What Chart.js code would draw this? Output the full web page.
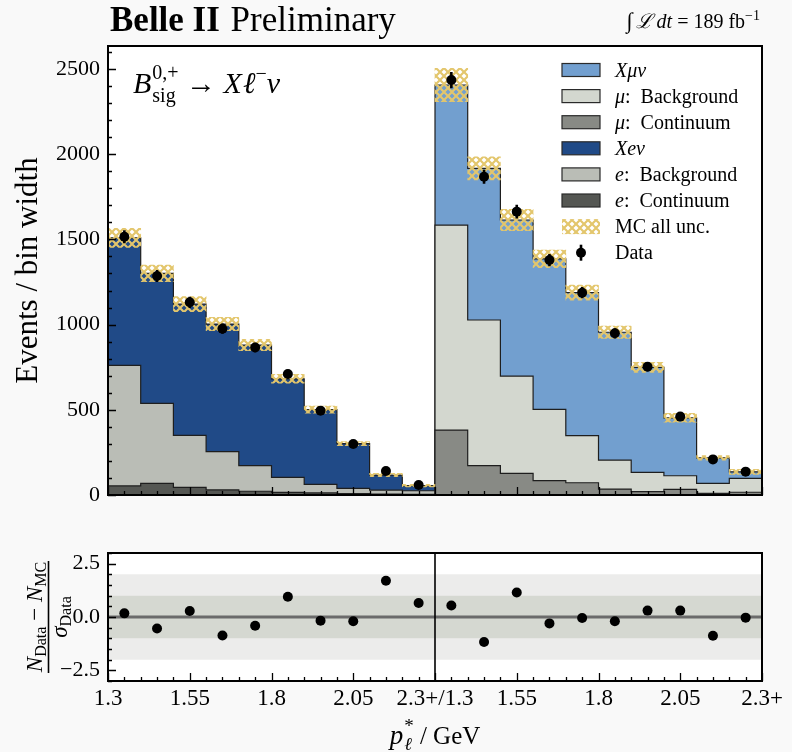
<!DOCTYPE html>
<html><head><meta charset="utf-8">
<script src="https://cdn.jsdelivr.net/npm/chart.js@4.4.1/dist/chart.umd.min.js"></script>
<style>
html,body{margin:0;padding:0;background:#f9f9f9;overflow:hidden}
#wrap{position:relative;width:792px;height:752px;background:#f9f9f9}
canvas{position:absolute;left:0}
#cTop{top:0}
#cBot{top:540px}
</style></head><body>
<div id="wrap">
<canvas id="cTop" width="792" height="540"></canvas>
<canvas id="cBot" width="792" height="212"></canvas>
</div>
<script>
// ---------------- data ----------------
// x axis in bin units: 0..10 electron channel, 10..20 muon channel (0.1 GeV bins, 1.3 -> 2.3+)
const xTickPositions = [0, 2.5, 5, 7.5, 10, 12.5, 15, 17.5, 20];
const xTickLabels = ['1.3', '1.55', '1.8', '2.05', '2.3+/1.3', '1.55', '1.8', '2.05', '2.3+'];
const yTickValues = [0, 500, 1000, 1500, 2000, 2500];
const pullTickValues = [-2.5, 0, 2.5];
const pullBands = [2, 1];

// electron channel (events / bin width)
const eContinuum = [53, 68, 45, 30, 22, 15, 12, 8, 5, 4];
const eBackground = [708, 470, 305, 224, 150, 89, 50, 31, 24, 21];
const eSignal = [748, 763, 770, 749, 708, 578, 439, 262, 88, 30];
// muon channel
const muContinuum = [381, 172, 127, 84, 72, 35, 20, 33, 10, 16];
const muBackground = [1203, 855, 571, 419, 276, 170, 113, 80, 58, 82];
const muSignal = [822, 890, 916, 883, 840, 750, 616, 340, 150, 38];
// MC total uncertainty (half width), electron bins then muon bins
const mcUncertainty = [56, 49, 44, 39, 33, 26, 21, 12, 10, 8, 98, 68, 63, 52, 44, 36, 29, 26, 13, 15];
// data
const dataValues = [1516, 1285, 1131, 976, 866, 710, 495, 299, 141, 59, 2435, 1868, 1663, 1379, 1187, 949, 753, 460, 209, 137];
const dataErrors = [38, 35, 33, 30, 28, 25, 21, 17, 12, 8, 48, 41, 40, 36, 33, 30, 27, 21, 15, 12];
// pulls (N_Data - N_MC) / sigma_Data
const pullValues = [0.17, -0.54, 0.28, -0.87, -0.41, 0.95, -0.17, -0.2, 1.70, 0.66, 0.54, -1.17, 1.15, -0.30, -0.05, -0.2, 0.3, 0.3, -0.88, -0.03];

// ---------------- style ----------------
const SERIF = "'Liberation Serif','DejaVu Serif','Times New Roman',serif";
const COL = { muSig: '#729fcf', muBkg: '#d3d7cf', muCont: '#888a85', eSig: '#204a87', eBkg: '#babdb6', eCont: '#555753' };
const HATCH = '#e3c66c';
Chart.defaults.font.family = SERIF;
Chart.defaults.color = '#000';

function fnt(s, i, b) { return (i ? 'italic ' : '') + (b ? 'bold ' : '') + s + 'px ' + SERIF; }
function richWidth(ctx, parts) {
  let w = 0;
  for (const p of parts) {
    if (p.pair) { let m = 0; for (const q of p.pair) { ctx.font = fnt(q.s, q.i, q.b); m = Math.max(m, ctx.measureText(q.t).width); } w += m; }
    else { ctx.font = fnt(p.s, p.i, p.b); w += ctx.measureText(p.t).width + (p.dx || 0); }
  }
  return w;
}
function drawRich(ctx, parts, x, y, align) {
  const w = richWidth(ctx, parts);
  if (align === 'center') x -= w / 2; else if (align === 'right') x -= w;
  ctx.textAlign = 'left'; ctx.textBaseline = 'alphabetic';
  for (const p of parts) {
    if (p.pair) {
      let m = 0;
      for (const q of p.pair) { ctx.font = fnt(q.s, q.i, q.b); ctx.fillText(q.t, x, y + (q.dy || 0)); m = Math.max(m, ctx.measureText(q.t).width); }
      x += m;
    } else {
      ctx.font = fnt(p.s, p.i, p.b); ctx.fillText(p.t, x, y + (p.dy || 0));
      x += ctx.measureText(p.t).width + (p.dx || 0);
    }
  }
}

function hatchPattern(color) {
  const c = document.createElement('canvas'); c.width = 8; c.height = 8;
  const g = c.getContext('2d');
  g.strokeStyle = color; g.lineWidth = 2.2;
  g.beginPath();
  g.moveTo(-1, -1); g.lineTo(9, 9);
  g.moveTo(9, -1); g.lineTo(-1, 9);
  g.stroke();
  return c.getContext('2d').createPattern(c, 'repeat');
}
const hatch = hatchPattern(HATCH);

// step outline (with vertical edges to zero) from cumulative bin contents
function stepPoints(vals, start) {
  const pts = [{ x: start, y: 0 }];
  vals.forEach((v, i) => pts.push({ x: start + i, y: v }));
  pts.push({ x: start + vals.length, y: vals[vals.length - 1] });
  pts.push({ x: start + vals.length, y: 0 });
  return pts;
}
const add = (a, b) => a.map((v, i) => v + b[i]);
const eL1 = eContinuum, eL2 = add(eL1, eBackground), eL3 = add(eL2, eSignal);
const mL1 = muContinuum, mL2 = add(mL1, muBackground), mL3 = add(mL2, muSignal);
const mcTotal = eL3.concat(mL3);

const stepStyle = { type: 'line', stepped: true, pointRadius: 0, borderColor: '#1e1e1e', borderWidth: 1.2, tension: 0, fill: 'origin' };

function noPad(s) { s.paddingTop = 0; s.paddingBottom = 0; s.paddingLeft = 0; s.paddingRight = 0; }

// ---------------- plugins ----------------
const plotBg = {
  id: 'plotBg',
  beforeDraw(chart) {
    const { ctx, chartArea: a } = chart;
    ctx.save(); ctx.fillStyle = '#ffffff'; ctx.fillRect(a.left, a.top, a.right - a.left, a.bottom - a.top); ctx.restore();
  }
};
const frameTicks = {
  id: 'frameTicks',
  afterDraw(chart, args, o) {
    const { ctx, chartArea: a, scales: { x, y } } = chart;
    ctx.save();
    ctx.strokeStyle = '#000'; ctx.lineWidth = 1.3;
    ctx.beginPath();
    for (let v = x.min; v <= x.max + 1e-9; v += o.xMinor) {
      const px = Math.round(x.getPixelForValue(v)) + 0.5;
      const major = xTickPositions.some(t => Math.abs(t - v) < 1e-6);
      ctx.moveTo(px, a.bottom); ctx.lineTo(px, a.bottom - (major ? 8 : 4));
    }
    for (let v = o.yMinorStart; v <= y.max + 1e-9; v += o.yMinor) {
      const py = Math.round(y.getPixelForValue(v)) + 0.5;
      const major = o.yMajor.some(t => Math.abs(t - v) < 1e-6);
      ctx.moveTo(a.left, py); ctx.lineTo(a.left + (major ? 8 : 4), py);
    }
    ctx.stroke();
    ctx.lineWidth = 2;
    ctx.strokeRect(a.left, a.top, a.right - a.left, a.bottom - a.top);
    ctx.restore();
  }
};
const errorBars = {
  id: 'errorBars',
  afterDatasetsDraw(chart) {
    const { ctx } = chart; const ys = chart.scales.y;
    chart.data.datasets.forEach((ds, i) => {
      if (!ds.errorBars) return;
      const meta = chart.getDatasetMeta(i);
      ctx.save(); ctx.strokeStyle = '#000'; ctx.lineWidth = 2.6;
      ctx.beginPath();
      ds.data.forEach((p, j) => {
        const px = meta.data[j].x;
        ctx.moveTo(px, ys.getPixelForValue(p.y - ds.errorBars[j]));
        ctx.lineTo(px, ys.getPixelForValue(p.y + ds.errorBars[j]));
      });
      ctx.stroke(); ctx.restore();
    });
  }
};
const legendBox = {
  id: 'legendBox',
  afterDraw(chart) {
    const { ctx, chartArea: a } = chart;
    const items = chart.data.datasets.filter(d => d.legendRank).sort((p, q) => p.legendRank - q.legendRank);
    const x0 = a.right - 200, y0 = a.top + 24, rowH = 26.1, bw = 38, bh = 13;
    ctx.save();
    items.forEach((d, k) => {
      const cy = y0 + k * rowH;
      if (d.legendKind === 'box') {
        ctx.fillStyle = d.backgroundColor; ctx.fillRect(x0, cy - bh / 2, bw, bh);
        ctx.strokeStyle = '#2a2a2a'; ctx.lineWidth = 1.2; ctx.strokeRect(x0, cy - bh / 2, bw, bh);
      } else if (d.legendKind === 'hatch') {
        ctx.fillStyle = hatch; ctx.fillRect(x0, cy - bh / 2 - 1, bw, bh + 2);
      } else {
        const cx = x0 + bw / 2;
        ctx.strokeStyle = '#000'; ctx.lineWidth = 2.6;
        ctx.beginPath(); ctx.moveTo(cx, cy - 8); ctx.lineTo(cx, cy + 8); ctx.stroke();
        ctx.fillStyle = '#000'; ctx.beginPath(); ctx.arc(cx, cy, 5, 0, Math.PI * 2); ctx.fill();
      }
      ctx.fillStyle = '#000';
      drawRich(ctx, d.legendParts, x0 + 53, cy + 6.5, 'left');
    });
    ctx.restore();
  }
};
const topTexts = {
  id: 'topTexts',
  afterDraw(chart) {
    const { ctx, chartArea: a } = chart;
    ctx.save(); ctx.fillStyle = '#000';
    drawRich(ctx, [{ t: 'Belle II', s: 35, b: true, dx: 2 }, { t: ' Preliminary', s: 35 }], 110, 31, 'left');
    drawRich(ctx, [{ t: '\u222B', s: 22, i: true, dx: 3 }, { t: '\u2112', s: 20, i: true, dx: 4 }, { t: 'dt', s: 20, i: true },
      { t: ' = 189 fb', s: 20 }, { t: '\u22121', s: 14, dy: -8 }], 760, 28, 'right');
    drawRich(ctx, [{ t: 'B', s: 30, i: true, dx: 1 }, { pair: [{ t: '0,+', s: 20, dy: -14 }, { t: 'sig', s: 20, dy: 9 }] },
      { t: ' \u2192 ', s: 30 }, { t: 'X', s: 30, i: true, dx: 1 }, { t: '\u2113', s: 30, i: true }, { t: '\u2212', s: 20, dy: -13 }, { t: '\u03BD', s: 30, i: true }],
      a.left + 25, a.top + 47, 'left');
    ctx.restore();
  }
};
const pullTexts = {
  id: 'pullTexts',
  afterDraw(chart) {
    const { ctx, chartArea: a } = chart;
    ctx.save(); ctx.fillStyle = '#000'; ctx.strokeStyle = '#000';
    drawRich(ctx, [{ t: 'p', s: 27, i: true, dx: 1 }, { pair: [{ t: '*', s: 19, dy: -12 }, { t: '\u2113', s: 18, i: true, dy: 6 }] },
      { t: ' / GeV', s: 25 }], (a.left + a.right) / 2, 204, 'center');
    const cy = (a.top + a.bottom) / 2;
    ctx.translate(42, cy); ctx.rotate(-Math.PI / 2);
    drawRich(ctx, [{ t: 'N', s: 23, i: true }, { t: 'Data', s: 16, dy: 4 }, { t: ' \u2212 ', s: 23 }, { t: 'N', s: 23, i: true }, { t: 'MC', s: 16, dy: 4 }], 0, 0, 'center');
    ctx.lineWidth = 1.6;
    ctx.beginPath(); ctx.moveTo(-56, 6.5); ctx.lineTo(56, 6.5); ctx.stroke();
    drawRich(ctx, [{ t: '\u03C3', s: 23, i: true }, { t: 'Data', s: 16, dy: 4 }], 0, 25, 'center');
    ctx.restore();
  }
};

// ---------------- top chart ----------------
const uncBars = mcTotal.map((v, i) => ({ x: i + 0.5, y: [v - mcUncertainty[i], v + mcUncertainty[i]] }));
const dataPoints = dataValues.map((v, i) => ({ x: i + 0.5, y: v }));

new Chart(document.getElementById('cTop'), {
  type: 'line',
  data: {
    datasets: [
      { type: 'scatter', label: 'Data', data: dataPoints, pointRadius: 5, pointHoverRadius: 5, backgroundColor: '#000', borderWidth: 0, order: 0,
        errorBars: dataErrors, legendRank: 8, legendKind: 'data', legendParts: [{ t: 'Data', s: 20 }] },
      { type: 'bar', label: 'MC all unc.', data: uncBars, backgroundColor: hatch, borderWidth: 0, barPercentage: 1, categoryPercentage: 1, order: 1,
        legendRank: 7, legendKind: 'hatch', legendParts: [{ t: 'MC all unc.', s: 20 }] },
      Object.assign({}, stepStyle, { label: 'e: Continuum', data: stepPoints(eL1, 0), backgroundColor: COL.eCont, order: 2,
        legendRank: 6, legendKind: 'box', legendParts: [{ t: 'e', s: 20, i: true }, { t: ':  Continuum', s: 20 }] }),
      Object.assign({}, stepStyle, { label: '\u03BC: Continuum', data: stepPoints(mL1, 10), backgroundColor: COL.muCont, order: 2,
        legendRank: 3, legendKind: 'box', legendParts: [{ t: '\u03BC', s: 20, i: true }, { t: ':  Continuum', s: 20 }] }),
      Object.assign({}, stepStyle, { label: 'e: Background', data: stepPoints(eL2, 0), backgroundColor: COL.eBkg, order: 3,
        legendRank: 5, legendKind: 'box', legendParts: [{ t: 'e', s: 20, i: true }, { t: ':  Background', s: 20 }] }),
      Object.assign({}, stepStyle, { label: '\u03BC: Background', data: stepPoints(mL2, 10), backgroundColor: COL.muBkg, order: 3,
        legendRank: 2, legendKind: 'box', legendParts: [{ t: '\u03BC', s: 20, i: true }, { t: ':  Background', s: 20 }] }),
      Object.assign({}, stepStyle, { label: 'Xe\u03BD', data: stepPoints(eL3, 0), backgroundColor: COL.eSig, order: 4,
        legendRank: 4, legendKind: 'box', legendParts: [{ t: 'Xe\u03BD', s: 20, i: true }] }),
      Object.assign({}, stepStyle, { label: 'X\u03BC\u03BD', data: stepPoints(mL3, 10), backgroundColor: COL.muSig, order: 4,
        legendRank: 1, legendKind: 'box', legendParts: [{ t: 'X\u03BC\u03BD', s: 20, i: true }] })
    ]
  },
  options: {
    responsive: false, animation: false, devicePixelRatio: 1,
    layout: { padding: { left: 0, right: 30, top: 46, bottom: 45 } },
    plugins: { legend: { display: false }, tooltip: { enabled: false },
      frameTicks: { xMinor: 0.5, yMinor: 100, yMinorStart: 0, yMajor: yTickValues } },
    scales: {
      x: { type: 'linear', min: 0, max: 20, offset: false, grid: { display: false, drawTicks: false, offset: false }, border: { display: false },
        ticks: { display: false }, afterFit(s) { s.height = 0; noPad(s); } },
      y: { type: 'linear', min: 0, max: 2635, grid: { display: false, drawTicks: false }, border: { display: false },
        afterBuildTicks(s) { s.ticks = yTickValues.map(v => ({ value: v })); },
        ticks: { font: { size: 22, family: SERIF }, color: '#000', padding: 8, callback: v => String(v) },
        title: { display: true, text: 'Events / bin width', font: { size: 31, family: SERIF }, color: '#000', padding: { top: 10, bottom: 0 } },
        afterFit(s) { s.width = 108; noPad(s); } }
    }
  },
  plugins: [plotBg, errorBars, frameTicks, legendBox, topTexts]
});

// ---------------- pull chart ----------------
const pullPoints = pullValues.map((v, i) => ({ x: i + 0.5, y: v }));
const bandDs = pullBands.map((b, k) => ({ type: 'line', label: '\u00B1' + b + '\u03C3', data: [{ x: 0, y: b }, { x: 20, y: b }],
  fill: { value: -b }, backgroundColor: k === 0 ? '#ececeb' : '#d5d8d1', borderWidth: 0, pointRadius: 0, order: 3 + (1 - k) }));

new Chart(document.getElementById('cBot'), {
  type: 'line',
  data: {
    datasets: [
      { type: 'scatter', label: 'Pull', data: pullPoints, pointRadius: 5, pointHoverRadius: 5, backgroundColor: '#000', borderWidth: 0, order: 0 },
      { type: 'line', label: 'separator', data: [{ x: 10, y: -3 }, { x: 10, y: 3 }], borderColor: '#000', borderWidth: 1.6, pointRadius: 0, order: 1 },
      { type: 'line', label: 'zero', data: [{ x: 0, y: 0 }, { x: 20, y: 0 }], borderColor: '#6b6b6b', borderWidth: 3, pointRadius: 0, order: 2 }
    ].concat(bandDs)
  },
  options: {
    responsive: false, animation: false, devicePixelRatio: 1,
    layout: { padding: { left: 0, right: 30, top: 13, bottom: 0 } },
    plugins: { legend: { display: false }, tooltip: { enabled: false },
      frameTicks: { xMinor: 0.5, yMinor: 0.5, yMinorStart: -3, yMajor: pullTickValues } },
    scales: {
      x: { type: 'linear', min: 0, max: 20, offset: false, grid: { display: false, drawTicks: false }, border: { display: false },
        afterBuildTicks(s) { s.ticks = xTickPositions.map(v => ({ value: v })); },
        ticks: { font: { size: 23, family: SERIF }, color: '#000', padding: 4, autoSkip: false, maxRotation: 0, minRotation: 0,
          callback: (v, i) => xTickLabels[i] },
        afterFit(s) { s.height = 71; noPad(s); } },
      y: { type: 'linear', min: -3, max: 3, grid: { display: false, drawTicks: false }, border: { display: false },
        afterBuildTicks(s) { s.ticks = pullTickValues.map(v => ({ value: v })); },
        ticks: { font: { size: 22, family: SERIF }, color: '#000', padding: 8,
          callback: v => (v < 0 ? '\u2212' : '') + Math.abs(v).toFixed(1) },
        afterFit(s) { s.width = 108; noPad(s); } }
    }
  },
  plugins: [plotBg, frameTicks, pullTexts]
});
</script>
</body></html>
